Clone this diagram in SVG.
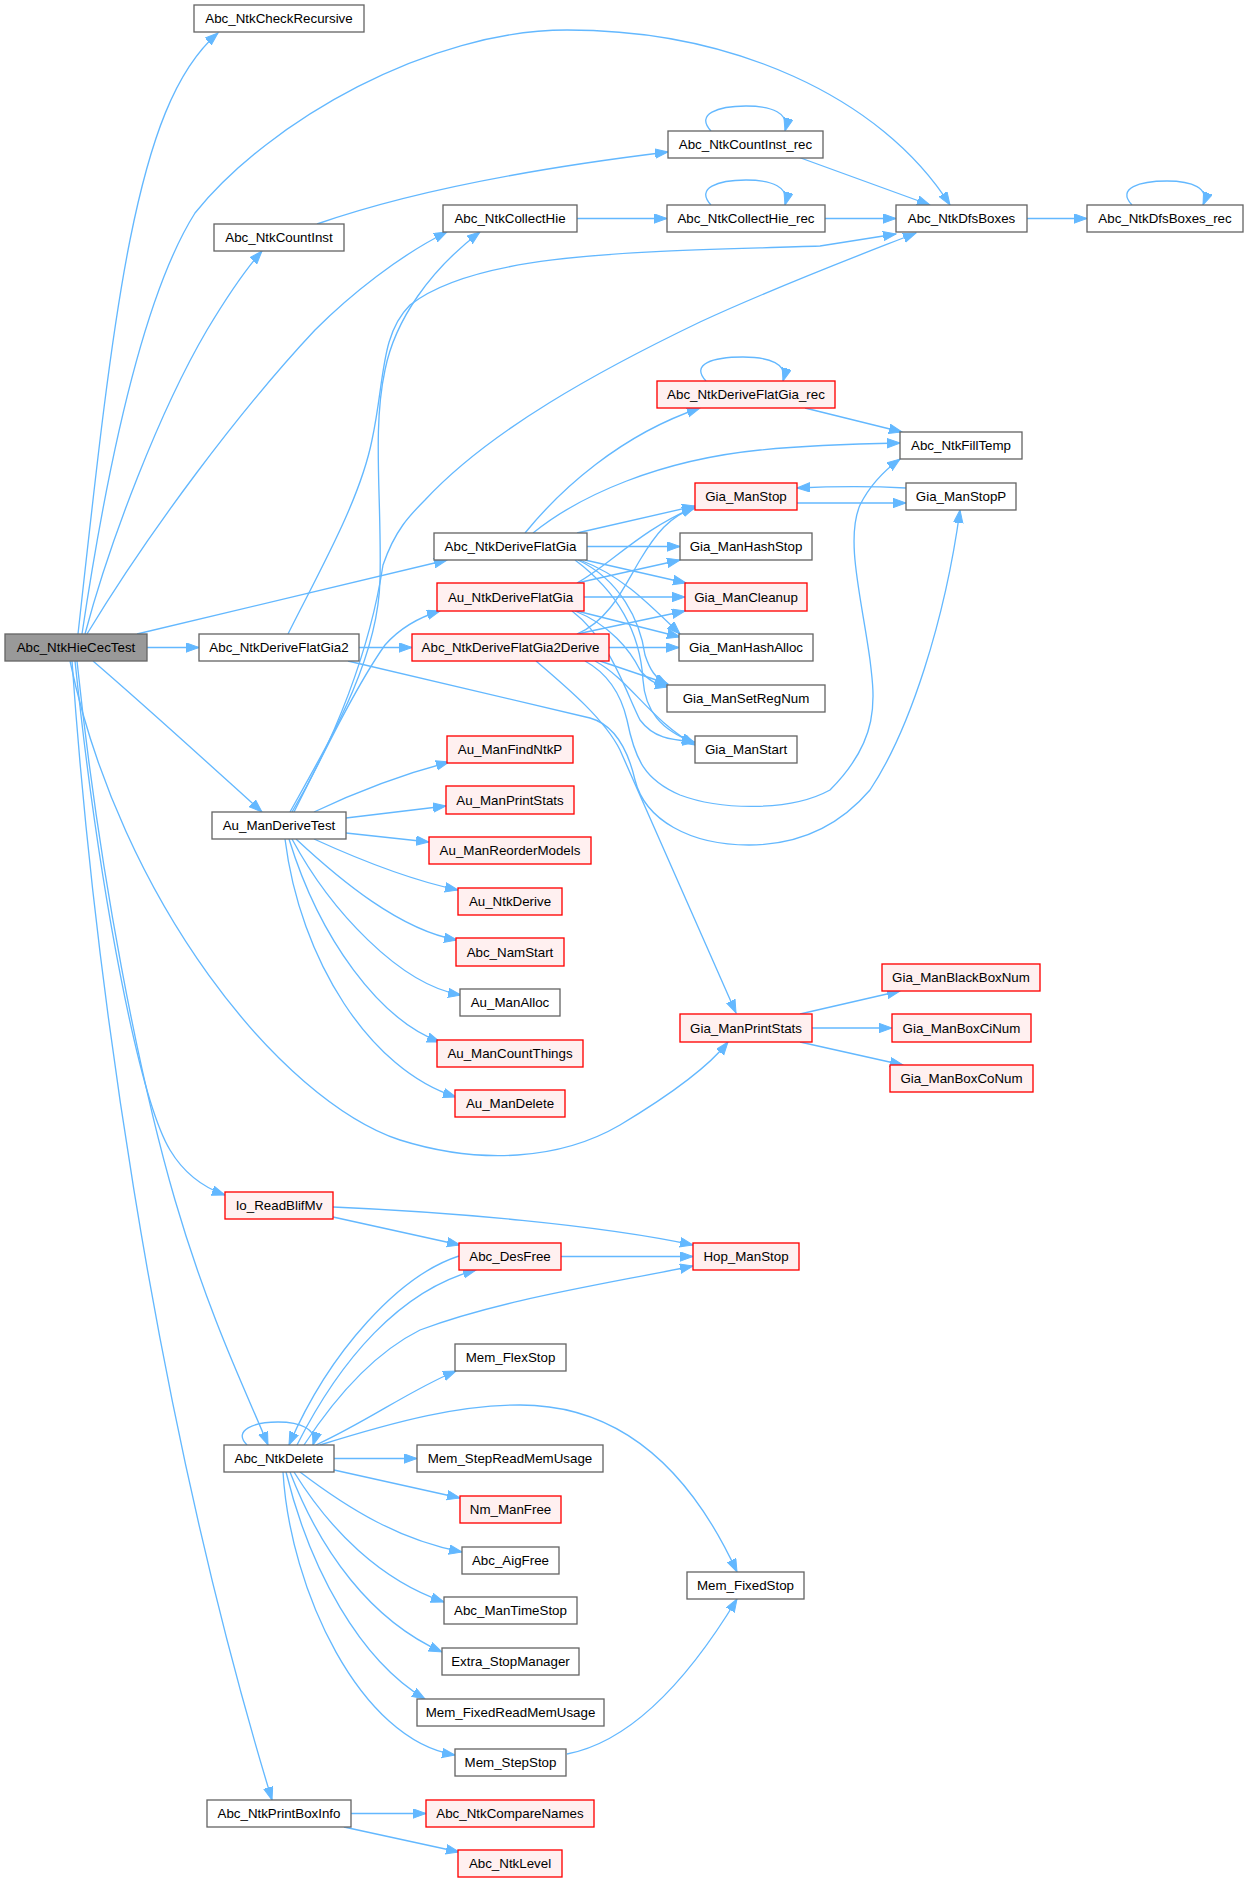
<svg xmlns="http://www.w3.org/2000/svg" width="1249" height="1883" viewBox="0 0 1249 1883">
<style>
.bg{fill:#ffffff}
.n rect{fill:#ffffff;stroke:#666666;stroke-width:1.33}
.r rect{fill:#fff0f0;stroke:#ff0000;stroke-width:1.33}
.root rect{fill:#999999;stroke:#666666;stroke-width:1.33}
text{font-family:"Liberation Sans",Arial,sans-serif;font-size:13.33px;fill:#000000;text-anchor:middle}
.e path{fill:none;stroke:#63b8ff;stroke-width:1.33;marker-end:url(#a)}
</style>
<defs>
<marker id="a" markerWidth="14" markerHeight="11" refX="13" refY="5" orient="auto" markerUnits="userSpaceOnUse"><path d="M0,0.3 L13,5 L0,9.7 z" fill="#63b8ff" stroke="#63b8ff" stroke-width="1"/></marker>
</defs>
<rect class="bg" x="0" y="0" width="1249" height="1883"/>
<g id="edges" class="e">
<path d="M78,634 C95,480 110,340 130,240 C150,140 175,70 218,33"/>
<path d="M82,634 C105,480 140,300 195,213 C270,120 430,30 567,30 C730,30 880,95 950,205"/>
<path d="M85,634 C110,540 160,410 207,330 C225,300 245,270 262,251"/>
<path d="M87,634 C150,530 240,410 315,330 C350,295 400,255 447,232"/>
<path d="M137,634 L447,560"/>
<path d="M147,647.5 L199,647.5"/>
<path d="M93,661 C150,710 210,765 262,812"/>
<path d="M70,661 C120,900 280,1100 400,1140 C480,1165 560,1160 620,1125 C670,1095 710,1065 728,1042"/>
<path d="M75,661 C100,900 140,1100 170,1150 C185,1175 205,1188 225,1195"/>
<path d="M77,661 C100,880 140,1080 175,1200 C210,1320 250,1400 268,1445"/>
<path d="M72,661 C92,950 150,1400 272,1800"/>
<path d="M317,224 C400,195 520,170 668,152"/>
<path d="M711,131 C695,114 718,106 746,106 C772,106 790,113 785,131"/>
<path d="M798,157 L930,205"/>
<path d="M577,218.5 L667,218.5"/>
<path d="M711,205 C695,188 718,180 746,180 C772,180 790,187 785,205"/>
<path d="M825,218.5 L896,218.5"/>
<path d="M1027,218.5 L1087,218.5"/>
<path d="M1132,205 C1116,188 1140,181 1167,181 C1192,181 1210,188 1203,205"/>
<path d="M290,812 C330,740 378,660 380,580 C382,500 372,430 385,370 C395,320 430,270 480,232"/>
<path d="M292,812 C335,740 370,650 383,565 C395,530 410,515 425,500 C490,430 600,370 700,322 C780,285 860,255 916,233"/>
<path d="M294,812 C330,740 360,680 385,645 C400,628 420,617 440,611"/>
<path d="M288,634 C320,570 360,500 372,440 C385,380 380,335 410,305 C480,250 650,252 820,246 L896,234"/>
<path d="M359,647.5 L412,647.5"/>
<path d="M348,661 L590,718 C615,725 628,750 635,780 C645,820 690,845 749,845 C800,845 840,825 870,790 C910,730 945,620 960,510"/>
<path d="M585,661 C605,672 620,690 627,720 C635,760 645,780 680,795 C720,810 790,812 830,790 C880,740 875,700 870,660 C862,600 845,540 860,505 C870,485 885,470 900,459"/>
<path d="M536,661 C570,690 605,720 620,750 L736,1013"/>
<path d="M525,533 C560,490 620,435 700,408"/>
<path d="M533,533 C580,495 660,460 760,450 C800,446 850,444 900,443"/>
<path d="M577,533 L695,506"/>
<path d="M587,546.5 L680,546.5"/>
<path d="M585,560 L686,583"/>
<path d="M580,560 C620,575 645,600 680,634"/>
<path d="M578,560 C620,580 640,620 645,655 C650,670 655,678 668,685"/>
<path d="M575,560 C615,590 640,630 643,680 C645,710 660,730 695,743"/>
<path d="M577,583 C610,565 640,530 695,507"/>
<path d="M577,583 L680,560"/>
<path d="M584,597 L685,597"/>
<path d="M577,611 L680,637"/>
<path d="M575,611 C610,625 630,650 640,670 C648,680 655,684 668,687"/>
<path d="M572,611 C610,640 625,690 640,720 C655,740 675,740 695,742"/>
<path d="M577,634 C610,620 625,585 640,560 C655,535 670,515 695,508"/>
<path d="M577,634 L685,611"/>
<path d="M609,647.5 L679,647.5"/>
<path d="M600,661 L668,684"/>
<path d="M595,661 C630,680 650,720 695,745"/>
<path d="M706,381 C690,364 713,357 743,357 C770,357 788,364 783,381"/>
<path d="M805,408 L902,432"/>
<path d="M797,503 L906,503"/>
<path d="M906,488 C870,486 840,486 797,488"/>
<path d="M314,812 C360,790 400,775 449,762"/>
<path d="M346,818 L446,806"/>
<path d="M346,833 L429,842"/>
<path d="M314,839 C360,860 410,880 458,890"/>
<path d="M296,839 C340,880 400,930 457,940"/>
<path d="M292,839 C330,910 400,985 461,995"/>
<path d="M289,839 C320,940 380,1020 440,1042"/>
<path d="M285,839 C300,960 370,1070 456,1097"/>
<path d="M800,1014 L900,991"/>
<path d="M812,1028 L892,1028"/>
<path d="M800,1042 L903,1065"/>
<path d="M333,1207 C450,1212 600,1225 693,1245"/>
<path d="M333,1217 L460,1245"/>
<path d="M561,1256.5 L693,1256.5"/>
<path d="M459,1256 C400,1275 330,1350 289,1445"/>
<path d="M297,1445 C340,1360 400,1290 476,1270"/>
<path d="M247,1445 C232,1430 255,1422 278,1422 C300,1422 318,1429 313,1445"/>
<path d="M304,1445 C340,1390 380,1350 420,1330 C500,1300 600,1285 693,1266"/>
<path d="M316,1445 C370,1420 410,1390 456,1371"/>
<path d="M320,1445 C400,1420 460,1405 520,1405 C620,1405 690,1470 737,1572"/>
<path d="M334,1458.5 L417,1458.5"/>
<path d="M334,1470 L460,1498"/>
<path d="M300,1472 C350,1510 400,1540 462,1552"/>
<path d="M294,1472 C330,1530 380,1580 444,1602"/>
<path d="M290,1472 C320,1550 370,1620 442,1652"/>
<path d="M286,1472 C310,1570 360,1660 425,1699"/>
<path d="M283,1472 C290,1590 360,1740 455,1755"/>
<path d="M567,1754 C640,1740 700,1660 737,1599"/>
<path d="M351,1813.5 L426,1813.5"/>
<path d="M344,1827 L459,1852"/>
</g>
<g id="n_root" class="root"><rect x="5" y="634" width="142" height="27"/><text x="76" y="652">Abc_NtkHieCecTest</text></g>
<g id="n_checkrec" class="n"><rect x="194" y="5" width="170" height="27"/><text x="279" y="23">Abc_NtkCheckRecursive</text></g>
<g id="n_countinst" class="n"><rect x="214" y="224" width="130" height="27"/><text x="279" y="242">Abc_NtkCountInst</text></g>
<g id="n_deriveflatgia2" class="n"><rect x="199" y="634" width="160" height="27"/><text x="279" y="652">Abc_NtkDeriveFlatGia2</text></g>
<g id="n_aumanderivetest" class="n"><rect x="212" y="812" width="134" height="27"/><text x="279" y="830">Au_ManDeriveTest</text></g>
<g id="n_ioreadblifmv" class="r"><rect x="225" y="1192" width="108" height="27"/><text x="279" y="1210">Io_ReadBlifMv</text></g>
<g id="n_ntkdelete" class="n"><rect x="224" y="1445" width="110" height="27"/><text x="279" y="1463">Abc_NtkDelete</text></g>
<g id="n_printboxinfo" class="n"><rect x="207" y="1800" width="144" height="27"/><text x="279" y="1818">Abc_NtkPrintBoxInfo</text></g>
<g id="n_collecthie" class="n"><rect x="443" y="205" width="134" height="27"/><text x="510" y="223">Abc_NtkCollectHie</text></g>
<g id="n_deriveflatgia" class="n"><rect x="434" y="533" width="153" height="27"/><text x="510.5" y="551">Abc_NtkDeriveFlatGia</text></g>
<g id="n_auntkderiveflatgia" class="r"><rect x="437" y="583" width="147" height="28"/><text x="510.5" y="601.5">Au_NtkDeriveFlatGia</text></g>
<g id="n_deriveflatgia2derive" class="r"><rect x="412" y="634" width="197" height="27"/><text x="510.5" y="652">Abc_NtkDeriveFlatGia2Derive</text></g>
<g id="n_aumanfindntkp" class="r"><rect x="447" y="736" width="126" height="27"/><text x="510" y="754">Au_ManFindNtkP</text></g>
<g id="n_aumanprintstats" class="r"><rect x="446" y="786" width="128" height="28"/><text x="510" y="804.5">Au_ManPrintStats</text></g>
<g id="n_aumanreordermodels" class="r"><rect x="429" y="837" width="162" height="27"/><text x="510" y="855">Au_ManReorderModels</text></g>
<g id="n_auntkderive" class="r"><rect x="458" y="888" width="104" height="27"/><text x="510" y="906">Au_NtkDerive</text></g>
<g id="n_abcnamstart" class="r"><rect x="456" y="938" width="108" height="28"/><text x="510" y="956.5">Abc_NamStart</text></g>
<g id="n_aumanalloc" class="n"><rect x="460" y="989" width="100" height="27"/><text x="510" y="1007">Au_ManAlloc</text></g>
<g id="n_aumancountthings" class="r"><rect x="437" y="1040" width="146" height="27"/><text x="510" y="1058">Au_ManCountThings</text></g>
<g id="n_aumandelete" class="r"><rect x="455" y="1090" width="110" height="27"/><text x="510" y="1108">Au_ManDelete</text></g>
<g id="n_abcdesfree" class="r"><rect x="459" y="1243" width="102" height="27"/><text x="510" y="1261">Abc_DesFree</text></g>
<g id="n_memflexstop" class="n"><rect x="455" y="1344" width="111" height="27"/><text x="510.5" y="1362">Mem_FlexStop</text></g>
<g id="n_memstepreadmemusage" class="n"><rect x="417" y="1445" width="186" height="27"/><text x="510" y="1463">Mem_StepReadMemUsage</text></g>
<g id="n_nmmanfree" class="r"><rect x="460" y="1496" width="101" height="27"/><text x="510.5" y="1514">Nm_ManFree</text></g>
<g id="n_abcaigfree" class="n"><rect x="462" y="1547" width="97" height="27"/><text x="510.5" y="1565">Abc_AigFree</text></g>
<g id="n_abcmantimestop" class="n"><rect x="444" y="1597" width="133" height="27"/><text x="510.5" y="1615">Abc_ManTimeStop</text></g>
<g id="n_extrastopmanager" class="n"><rect x="442" y="1648" width="137" height="27"/><text x="510.5" y="1666">Extra_StopManager</text></g>
<g id="n_memfixedreadmemusage" class="n"><rect x="417" y="1699" width="187" height="27"/><text x="510.5" y="1717">Mem_FixedReadMemUsage</text></g>
<g id="n_memstepstop" class="n"><rect x="455" y="1749" width="111" height="27"/><text x="510.5" y="1767">Mem_StepStop</text></g>
<g id="n_comparenames" class="r"><rect x="426" y="1800" width="168" height="27"/><text x="510" y="1818">Abc_NtkCompareNames</text></g>
<g id="n_ntklevel" class="r"><rect x="458" y="1850" width="104" height="27"/><text x="510" y="1868">Abc_NtkLevel</text></g>
<g id="n_countinstrec" class="n"><rect x="668" y="131" width="155" height="27"/><text x="745.5" y="149">Abc_NtkCountInst_rec</text></g>
<g id="n_collecthierec" class="n"><rect x="667" y="205" width="158" height="27"/><text x="746" y="223">Abc_NtkCollectHie_rec</text></g>
<g id="n_deriveflatgiarec" class="r"><rect x="657" y="381" width="178" height="27"/><text x="746" y="399">Abc_NtkDeriveFlatGia_rec</text></g>
<g id="n_giamanstop" class="r"><rect x="695" y="483" width="102" height="27"/><text x="746" y="501">Gia_ManStop</text></g>
<g id="n_giamanhashstop" class="n"><rect x="680" y="533" width="132" height="27"/><text x="746" y="551">Gia_ManHashStop</text></g>
<g id="n_giamancleanup" class="r"><rect x="685" y="583" width="122" height="28"/><text x="746" y="601.5">Gia_ManCleanup</text></g>
<g id="n_giamanhashalloc" class="n"><rect x="679" y="634" width="134" height="27"/><text x="746" y="652">Gia_ManHashAlloc</text></g>
<g id="n_giamansetregnum" class="n"><rect x="667" y="685" width="158" height="27"/><text x="746" y="703">Gia_ManSetRegNum</text></g>
<g id="n_giamanstart" class="n"><rect x="695" y="736" width="102" height="27"/><text x="746" y="754">Gia_ManStart</text></g>
<g id="n_giamanprintstats" class="r"><rect x="680" y="1014" width="132" height="28"/><text x="746" y="1032.5">Gia_ManPrintStats</text></g>
<g id="n_hopmanstop" class="r"><rect x="693" y="1243" width="106" height="27"/><text x="746" y="1261">Hop_ManStop</text></g>
<g id="n_memfixedstop" class="n"><rect x="687" y="1572" width="117" height="27"/><text x="745.5" y="1590">Mem_FixedStop</text></g>
<g id="n_dfsboxes" class="n"><rect x="896" y="205" width="131" height="27"/><text x="961.5" y="223">Abc_NtkDfsBoxes</text></g>
<g id="n_filltemp" class="n"><rect x="900" y="432" width="122" height="27"/><text x="961" y="450">Abc_NtkFillTemp</text></g>
<g id="n_giamanstopp" class="n"><rect x="906" y="483" width="110" height="27"/><text x="961" y="501">Gia_ManStopP</text></g>
<g id="n_blackboxnum" class="r"><rect x="882" y="964" width="158" height="27"/><text x="961" y="982">Gia_ManBlackBoxNum</text></g>
<g id="n_boxcinum" class="r"><rect x="892" y="1014" width="139" height="28"/><text x="961.5" y="1032.5">Gia_ManBoxCiNum</text></g>
<g id="n_boxconum" class="r"><rect x="890" y="1065" width="143" height="27"/><text x="961.5" y="1083">Gia_ManBoxCoNum</text></g>
<g id="n_dfsboxesrec" class="n"><rect x="1087" y="205" width="156" height="27"/><text x="1165" y="223">Abc_NtkDfsBoxes_rec</text></g>
</svg>
